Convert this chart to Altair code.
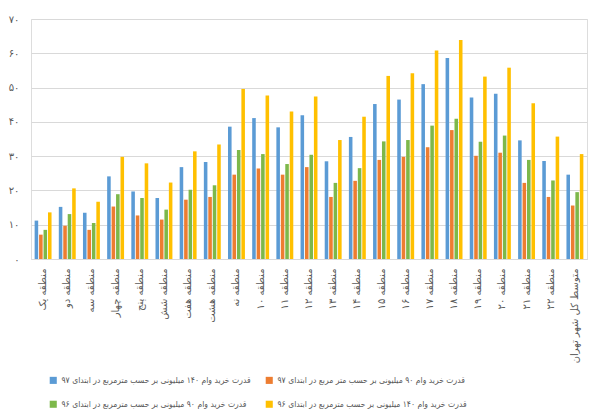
import altair as alt
import pandas as pd

categories = [
    "منطقه یک", "منطقه دو", "منطقه سه", "منطقه چهار", "منطقه پنج", "منطقه شش",
    "منطقه هفت", "منطقه هشت", "منطقه نه", "منطقه ۱۰", "منطقه ۱۱", "منطقه ۱۲",
    "منطقه ۱۳", "منطقه ۱۴", "منطقه ۱۵", "منطقه ۱۶", "منطقه ۱۷", "منطقه ۱۸",
    "منطقه ۱۹", "منطقه ۲۰", "منطقه ۲۱", "منطقه ۲۲", "متوسط کل شهر تهران",
]

series_names = [
    "قدرت خرید وام ۱۴۰ میلیونی بر حسب مترمربع در ابتدای ۹۷",
    "قدرت خرید وام ۹۰ میلیونی بر حسب متر مربع در ابتدای ۹۷",
    "قدرت خرید وام ۹۰ میلیونی بر حسب مترمربع در ابتدای ۹۶",
    "قدرت خرید وام ۱۴۰ میلیونی بر حسب مترمربع در ابتدای ۹۶",
]
series_colors = ["#5B9BD5", "#ED7D31", "#7DB84A", "#FFC000"]

blue_140_97 = [11.2, 15.2, 13.5, 24.1, 19.7, 17.8, 26.8, 28.3, 38.6, 41.1, 38.4, 41.9,
               28.5, 35.6, 45.2, 46.5, 51.0, 58.6, 47.1, 48.2, 34.6, 28.6, 24.6]
orange_90_97 = [7.1, 9.7, 8.5, 15.3, 12.7, 11.5, 17.3, 18.1, 24.6, 26.4, 24.6, 26.8,
                18.1, 22.8, 28.9, 29.8, 32.6, 37.6, 30.1, 31.0, 22.2, 18.1, 15.6]
green_90_96 = [8.5, 13.1, 10.5, 18.9, 17.8, 14.4, 20.2, 21.5, 31.8, 30.6, 27.7, 30.4,
               22.2, 26.5, 34.3, 34.7, 38.9, 40.9, 34.2, 36.0, 28.9, 22.9, 19.5]
yellow_140_96 = [13.6, 20.6, 16.7, 29.8, 27.9, 22.3, 31.4, 33.4, 49.6, 47.7, 43.0, 47.4,
                 34.7, 41.5, 53.4, 54.2, 60.8, 63.9, 53.2, 55.8, 45.4, 35.7, 30.6]

all_series = [blue_140_97, orange_90_97, green_90_96, yellow_140_96]

rows = []
for name, vals in zip(series_names, all_series):
    for cat, v in zip(categories, vals):
        rows.append({"cat": cat, "series": name, "value": v})
df = pd.DataFrame(rows)

fa_digits = ("replace(replace(replace(replace(replace(replace(replace(replace("
             "datum.label,'0','۰'),'1','۱'),'2','۲'),'3','۳'),'4','۴'),'5','۵'),'6','۶'),'7','۷')")

FONT = "DejaVu Sans"
LEG_FONT = "DejaVu Sans Condensed"

chart = alt.Chart(df).mark_bar().encode(
    x=alt.X("cat:N", sort=categories, title=None,
            scale=alt.Scale(paddingInner=0.3, paddingOuter=0.15),
            axis=alt.Axis(labelAngle=-90, ticks=False, domainColor="#d9d9d9",
                          labelPadding=9, labelFontSize=10, labelColor="#595959",
                          labelLimit=200, labelFont=FONT)),
    xOffset=alt.XOffset("series:N", sort=series_names,
                        scale=alt.Scale(paddingInner=0.2)),
    y=alt.Y("value:Q", title=None,
            scale=alt.Scale(domain=[0, 70]),
            axis=alt.Axis(values=[0, 10, 20, 30, 40, 50, 60, 70], ticks=False, domain=False,
                          gridColor="#d9d9d9", labelPadding=12, labelFontSize=10,
                          labelColor="#595959", labelExpr=fa_digits, labelFont=FONT)),
    color=alt.Color("series:N", sort=series_names,
                    scale=alt.Scale(domain=series_names, range=series_colors),
                    legend=alt.Legend(title=None, orient="none", legendX=18, legendY=357,
                                      direction="horizontal", columns=2,
                                      symbolType="square", symbolSize=50,
                                      symbolStrokeWidth=0, labelFontSize=8.5,
                                      labelColor="#595959", labelLimit=320,
                                      columnPadding=14, rowPadding=15, labelFont=LEG_FONT)),
).properties(
    width=556, height=240,
    padding={"left": 0, "top": 6, "right": 4, "bottom": 4},
).configure_view(stroke=None).configure(background="white")

chart.save("out.html", embed_options={"renderer": "svg", "actions": False})
